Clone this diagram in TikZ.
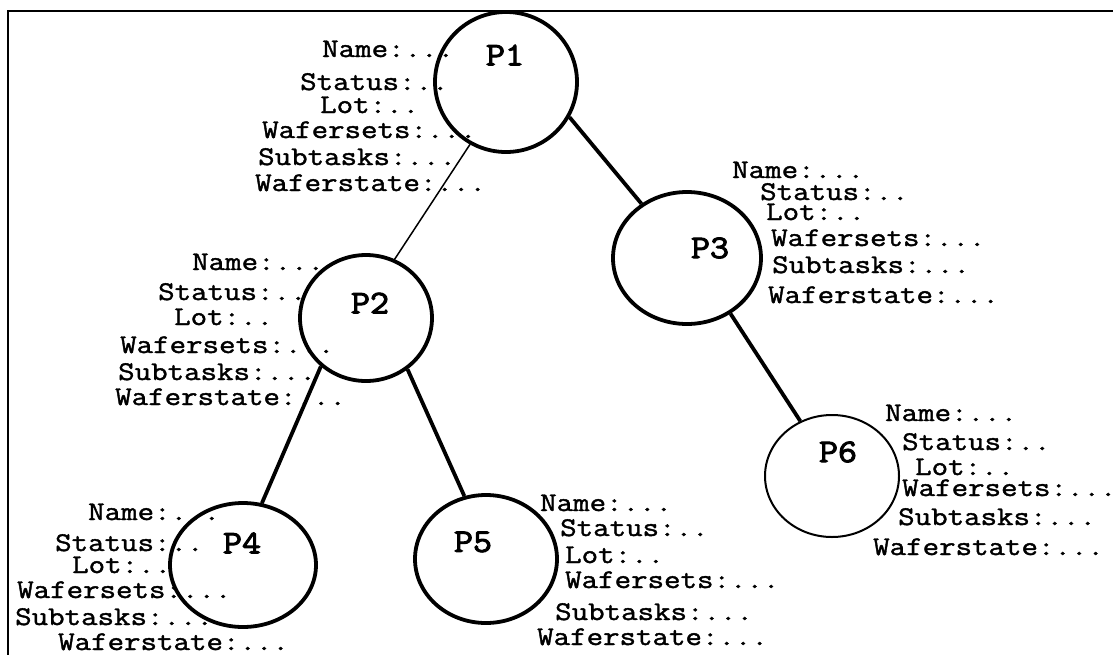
\documentclass[tikz,border=0pt]{standalone}
\usepackage{fontspec}
\usetikzlibrary{shapes.geometric}
\newfontfamily\labfont{Latin Modern Mono}[FakeStretch=1.185, FakeBold=1.5]
\newfontfamily\pfont{Latin Modern Mono}[FakeStretch=1.12, FakeBold=3]
\tikzset{
  lab/.style={anchor=base west, inner sep=0pt, font=\labfont\fontsize{27}{29}\selectfont},
  ptext/.style={anchor=center, inner sep=0pt, font=\pfont\fontsize{33}{35}\selectfont},
  proc/.style={ellipse, draw, line width=3.8pt, inner sep=0pt},
  thinproc/.style={ellipse, draw, line width=2pt, inner sep=0pt},
  edge/.style={line width=3.8pt},
  thinedge/.style={line width=1.5pt},
  frame/.style={line width=2pt}
}
\begin{document}
\begin{tikzpicture}[x=1pt,y=-1pt]
\useasboundingbox (0,0) rectangle (1113,654);
% frame (top and left sides)
\coordinate (fbl) at (8,660);
\coordinate (ftl) at (8,11);
\coordinate (ftr) at (1120,11);
\draw[frame] (fbl) -- (ftl) -- (ftr);

% process circles
\node[proc, minimum width=142pt, minimum height=140pt] (P1) at (506,82) {};
\node[proc, minimum width=132pt, minimum height=126pt] (P2) at (366,318) {};
\node[proc, minimum width=148pt, minimum height=132pt] (P3) at (687,258) {};
\node[proc, minimum width=146pt, minimum height=124pt] (P4) at (243,565) {};
\node[proc, minimum width=142pt, minimum height=128pt] (P5) at (486,559) {};
\node[thinproc, minimum width=134pt, minimum height=122pt] (P6) at (832,476) {};

\node[ptext] (t1) at (505,55) {P1};
\node[ptext] (t2) at (370,303) {P2};
\node[ptext] (t3) at (710,248) {P3};
\node[ptext] (t4) at (242,543) {P4};
\node[ptext] (t5) at (473,542) {P5};
\node[ptext] (t6) at (838,452) {P6};

% connectors
\draw[thinedge] (P1.-120) -- (P2.64);
\draw[edge] (P1.-29) -- (P3.130);
\draw[edge] (P2.-133) -- (P4.73);
\draw[edge] (P2.-51) -- (P5.109);
\draw[edge] (P3.-52) -- (P6.120);

% P1 attributes
\node[lab] (a1) at (322,57) {Name:...};
\node[lab] (b1) at (300,90) {Status:..};
\node[lab] (c1) at (320,113) {Lot:..};
\node[lab] (d1) at (262,138) {Wafersets:...};
\node[lab] (e1) at (258,165) {Subtasks:...};
\node[lab] (f1) at (255,191) {Waferstate:...};
% P2 attributes
\node[lab] (a2) at (192,270) {Name:...};
\node[lab] (b2) at (158,300) {Status:..};
\node[lab] (c2) at (174,325) {Lot:..};
\node[lab] (d2) at (120,353) {Wafersets:...};
\node[lab] (e2) at (118,380) {Subtasks:...};
\node[lab] (f2) at (115,405) {Waferstate:...};
% P3 attributes
\node[lab] (a3) at (732,178) {Name:...};
\node[lab] (b3) at (760,200) {Status:..};
\node[lab] (c3) at (766,220) {Lot:..};
\node[lab] (d3) at (771,246) {Wafersets:...};
\node[lab] (e3) at (772,273) {Subtasks:...};
\node[lab] (f3) at (768,303) {Waferstate:...};
% P4 attributes
\node[lab] (a4) at (88,520) {Name:...};
\node[lab] (b4) at (55,551) {Status:..};
\node[lab] (c4) at (72,573) {Lot:..};
\node[lab] (d4) at (17,598) {Wafersets:...};
\node[lab] (e4) at (15,625) {Subtasks:...};
\node[lab] (f4) at (58,650) {Waferstate:...};
% P5 attributes
\node[lab] (a5) at (540,511) {Name:...};
\node[lab] (b5) at (560,536) {Status:..};
\node[lab] (c5) at (565,563) {Lot:..};
\node[lab] (d5) at (565,588) {Wafersets:...};
\node[lab] (e5) at (555,620) {Subtasks:...};
\node[lab] (f5) at (537,645) {Waferstate:...};
% P6 attributes
\node[lab] (a6) at (885,421) {Name:...};
\node[lab] (b6) at (902,450) {Status:..};
\node[lab] (c6) at (915,475) {Lot:..};
\node[lab] (d6) at (902,496) {Wafersets:...};
\node[lab] (e6) at (898,525) {Subtasks:...};
\node[lab] (f6) at (873,555) {Waferstate:...};
\end{tikzpicture}
\end{document}
